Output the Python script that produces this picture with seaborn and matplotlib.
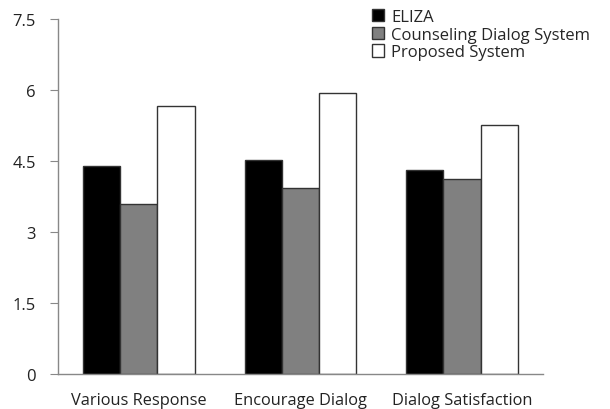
import matplotlib
matplotlib.use('Agg')
import matplotlib.pyplot as plt
import seaborn as sns
import pandas as pd

categories = ['Various Response', 'Encourage Dialog', 'Dialog Satisfaction']
systems = ['ELIZA', 'Counseling Dialog System', 'Proposed System']
eliza = [4.39, 4.52, 4.31]
counseling = [3.59, 3.93, 4.13]
proposed = [5.67, 5.93, 5.26]
y_ticks = [0, 1.5, 3, 4.5, 6, 7.5]
y_tick_labels = ['0', '1.5', '3', '4.5', '6', '7.5']

sns.set_style('white')
plt.rcParams['font.family'] = ['Open Sans', 'DejaVu Sans']

df = pd.DataFrame({
    'category': categories * 3,
    'system': [systems[0]] * 3 + [systems[1]] * 3 + [systems[2]] * 3,
    'score': eliza + counseling + proposed,
})

fig = plt.figure(figsize=(6.1, 4.1), dpi=100)
ax = fig.add_axes([0.095, 0.085, 0.795, 0.866])

palette = {systems[0]: '#000000', systems[1]: '#808080', systems[2]: '#ffffff'}
sns.barplot(data=df, x='category', y='score', hue='system', hue_order=systems,
            order=categories, palette=palette, width=0.69, saturation=1,
            edgecolor='#333333', linewidth=1.0, ax=ax, legend=False)

ax.set_ylim(0, 7.5)
ax.set_xlim(-0.5, 2.5)
ax.set_yticks(y_ticks)
ax.set_yticklabels(y_tick_labels, fontsize=12, color='#222222')
ax.set_xlabel('')
ax.set_ylabel('')
ax.tick_params(axis='x', which='major', length=0, labelsize=11.8, labelcolor='#222222', pad=13)
ax.set_xticks([-0.5, 0.5, 1.5, 2.5], minor=True)
ax.tick_params(axis='x', which='minor', length=6, color='#888888', direction='out')
ax.tick_params(axis='y', length=6, color='#888888', direction='out', left=True, pad=10)
for s in ['top', 'right']:
    ax.spines[s].set_visible(False)
for s in ['left', 'bottom']:
    ax.spines[s].set_color('#888888')
    ax.spines[s].set_linewidth(1.0)

handles = [plt.Rectangle((0, 0), 1, 1, facecolor=palette[s], edgecolor='#333333', linewidth=1.0)
           for s in systems]
fig.legend(handles, systems, loc='upper left', bbox_to_anchor=(0.593, 1.0),
           frameon=False, fontsize=12, handlelength=0.75, handleheight=0.75,
           handletextpad=0.4, labelspacing=0.1, borderaxespad=0.2)

fig.savefig('out.png', dpi=100)
